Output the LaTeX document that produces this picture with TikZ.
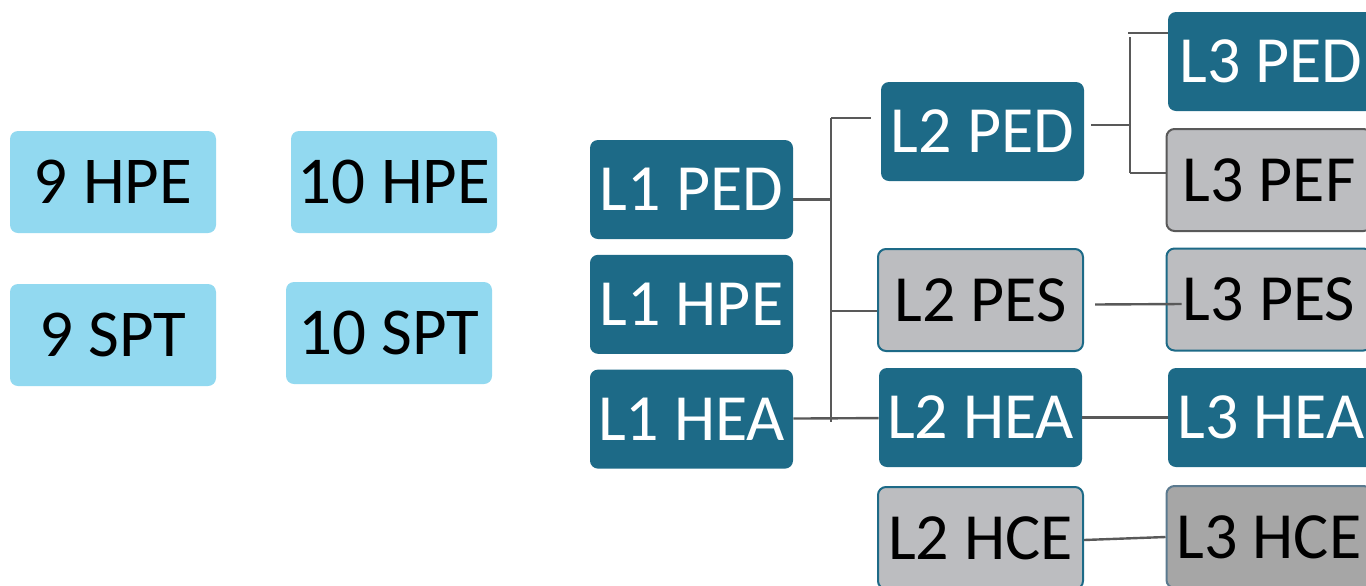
\documentclass[tikz,border=0pt]{standalone}
\usepackage{fontspec}
\setmainfont{Carlito}
\usepackage{xcolor}
\usetikzlibrary{positioning}

\definecolor{teal}{RGB}{29,106,135}
\definecolor{skyblue}{RGB}{146,217,240}
\definecolor{lightgrey}{RGB}{188,189,192}
\definecolor{midgrey}{RGB}{166,166,166}
\definecolor{linegrey}{RGB}{89,89,89}
\definecolor{steelgrey}{RGB}{91,122,143}

\begin{document}
\begin{tikzpicture}[
    x=0.5pt, y=-0.5pt,
    node distance=7.5pt and 43pt,
    grade/.style={rounded corners=4pt, fill=skyblue, text=black, inner sep=0pt, minimum width=103pt, minimum height=51pt, font=\fontsize{33.5}{40}\selectfont},
    level/.style={rounded corners=4pt, fill=teal, text=white, inner sep=0pt, minimum width=101.5pt, minimum height=49.5pt, font=\fontsize{33}{40}\selectfont},
    option/.style={rounded corners=4pt, draw=teal, line width=1pt, fill=lightgrey, text=black, inner sep=0pt, minimum width=102.5pt, minimum height=51pt, font=\fontsize{33}{40}\selectfont},
    link/.style={draw=linegrey, line width=1.2pt}
]
    \useasboundingbox (0,0) rectangle (1366,585);

    % grade boxes
    \node[grade] (hpe9) at (113,182) {9 HPE};
    \node[grade] (hpe10) at (394,182) {10 HPE};
    \node[grade] (spt9) at (113,335) {9 SPT};
    \node[grade] (spt10) at (389,333) {10 SPT};

    % level 1
    \node[level] (l1ped) at (691.5,189.5) {L1 PED};
    \node[level, below=of l1ped] (l1hpe) {L1 HPE};
    \node[level, below=of l1hpe] (l1hea) {L1 HEA};

    % level 2
    \node[level] (l2ped) at (982.5,131.5) {L2 PED};
    \node[option] (l2pes) at (980.5,300) {L2 PES};
    \node[level] (l2hea) at (980.5,417.5) {L2 HEA};
    \node[option] (l2hce) at (980.5,538) {L2 HCE};

    % level 3
    \node[level, minimum width=103pt] (l3ped) at (1271,61.5) {L3 PED};
    \node[option, draw=linegrey] (l3pef) at (1269,180) {L3 PEF};
    \node[option] (l3pes) at (1269,299.5) {L3 PES};
    \node[level, minimum width=103pt] (l3hea) at (1271,417.5) {L3 HEA};
    \node[option, draw=steelgrey, fill=midgrey] (l3hce) at (1269,537) {L3 HCE};

    % connectors
    \coordinate (busT) at (831,118);
    \coordinate (busB) at (831,422);
    \draw[link] (busT) -- (busB);
    \draw[link] ([yshift=-5pt]l1ped.east) -- ++(19pt,0);
    \draw[link] (busT) -- ([xshift=-5pt]busT -| l2ped.west);
    \draw[link] ([yshift=-5.5pt]l2pes.west) -- ([yshift=-5.5pt]l2pes.west -| busT);
    \draw[link] (l1hea) -- (l2hea);

    \coordinate (busPT) at (1130,33);
    \coordinate (busPB) at (1130,173);
    \draw[link] ([yshift=-2pt]busPT) -- (busPB);
    \draw[link] ([xshift=-1pt]busPT) -- (busPT -| l3ped.west);
    \draw[link] (busPB) -- (busPB -| l3pef.west);
    \draw[link] ([xshift=3.5pt,yshift=3.25pt]l2ped.east) -- ++(19.5pt,0);

    \draw[link] ([xshift=5.5pt,yshift=-2.25pt]l2pes.east) -- ([xshift=8pt,yshift=-2.25pt]l3pes.west);
    \draw[link] (l2hea) -- (l3hea);
    \draw[link] ([yshift=-1pt]l2hce.east) -- (l3hce.west);
\end{tikzpicture}
\end{document}
